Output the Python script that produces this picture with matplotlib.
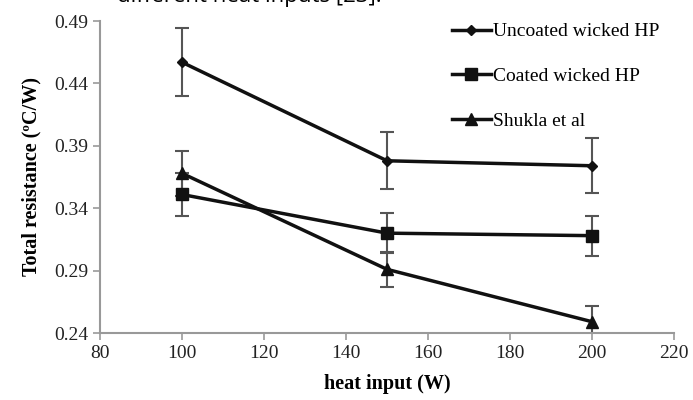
import numpy as np
import matplotlib.pyplot as plt

# data
heat = [100, 150, 200]
uncoated = [0.457, 0.378, 0.374]
uncoated_err = [0.027, 0.023, 0.022]
coated = [0.351, 0.320, 0.318]
coated_err = [0.017, 0.016, 0.016]
shukla = [0.368, 0.291, 0.249]
shukla_err = [0.018, 0.014, 0.013]

xticks = [80, 100, 120, 140, 160, 180, 200, 220]
yticks = [0.24, 0.29, 0.34, 0.39, 0.44, 0.49]

plt.rcParams['font.family'] = ['Liberation Serif', 'DejaVu Serif']

fig = plt.figure(figsize=(6.93, 4.0), dpi=100)
ax = fig.add_axes([0.144, 0.1675, 0.829, 0.78])

ebkw = dict(ecolor='#555555', elinewidth=1.5, capsize=5, capthick=1.5)
ax.errorbar(heat, uncoated, yerr=uncoated_err, color='#111111', lw=2.5,
            marker='D', ms=5, label='Uncoated wicked HP', **ebkw)
ax.errorbar(heat, coated, yerr=coated_err, color='#111111', lw=2.5,
            marker='s', ms=8, label='Coated wicked HP', **ebkw)
ax.errorbar(heat, shukla, yerr=shukla_err, color='#111111', lw=2.5,
            marker='^', ms=8, label='Shukla et al', **ebkw)

ax.set_xlim(80, 220)
ax.set_ylim(0.24, 0.49)
ax.set_xticks(xticks)
ax.set_yticks(yticks)
ax.set_yticklabels(['%.2f' % v for v in yticks])
for s in ['top', 'right']:
    ax.spines[s].set_visible(False)
for s in ['left', 'bottom']:
    ax.spines[s].set_color('#999999')
    ax.spines[s].set_linewidth(1.5)
ax.tick_params(colors='#999999', labelcolor='#222222', labelsize=14,
               width=1.2, length=5)

ax.set_xlabel('heat input (W)', fontsize=14.5, fontweight='bold', labelpad=9)
ax.set_ylabel('Total resistance (ºC/W)', fontsize=14.5, fontweight='bold', labelpad=9)

# handles without error bars for the legend
h, l = ax.get_legend_handles_labels()
fig.legend([hh[0] for hh in h], l, loc='upper left', frameon=False,
           fontsize=14, handlelength=2.0, handletextpad=0.1,
           labelspacing=1.4, borderaxespad=0,
           bbox_to_anchor=(444 / 693, 1 - 15 / 400))

# clipped caption from the source page
fig.text(0.36, 0.995, 'different heat inputs [23].', fontsize=16,
         family='Open Sans', ha='center', va='baseline')

fig.savefig('out.png', dpi=100)
